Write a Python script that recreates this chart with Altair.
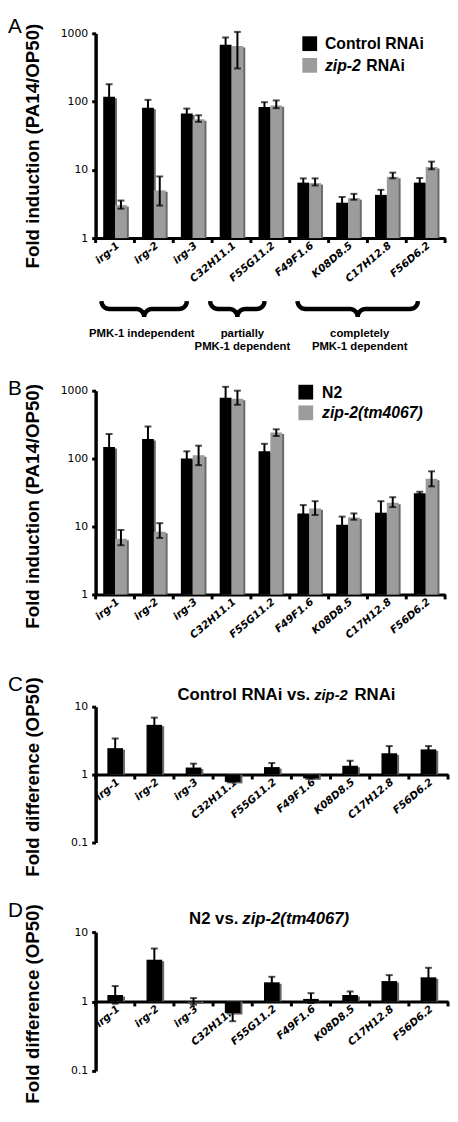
import math
import altair as alt
import pandas as pd

genes = ["irg-1", "irg-2", "irg-3", "C32H11.1", "F55G11.2",
         "F49F1.6", "K08D8.5", "C17H12.8", "F56D6.2"]

# ---- Panel A: Control RNAi vs zip-2 RNAi (fold induction PA14/OP50)
a_conds = ["Control RNAi", "zip-2 RNAi"]
a_ctrl = [118, 81, 67, 680, 83, 6.5, 3.3, 4.3, 6.5]
a_ctrl_lo = [75, 60, 56, 520, 70, 5.6, 2.7, 3.6, 5.5]
a_ctrl_hi = [180, 106, 79, 870, 98, 7.5, 4.0, 5.1, 7.6]
a_zip = [3.05, 5.0, 55, 650, 88, 6.4, 3.85, 7.9, 11.0]
a_zip_lo = [2.7, 3.0, 50.5, 306, 80, 5.9, 3.65, 7.5, 10.2]
a_zip_hi = [3.55, 8.0, 63, 1050, 104, 7.5, 4.45, 9.1, 13.2]

# ---- Panel B: N2 vs zip-2(tm4067)
b_conds = ["N2", "zip-2(tm4067)"]
b_n2 = [148, 195, 100, 790, 128, 15.5, 10.6, 16.0, 31]
b_n2_lo = [95, 130, 78, 550, 100, 11.6, 8.0, 10.8, 29.5]
b_n2_hi = [230, 297, 128, 1140, 165, 20.7, 14.0, 23.6, 32.5]
b_zip = [6.6, 8.4, 112, 760, 243, 18.5, 13.6, 22.4, 50.4]
b_zip_lo = [5.3, 6.8, 80, 620, 215, 14.8, 12.6, 19.3, 39]
b_zip_hi = [8.9, 11.2, 155, 1000, 270, 23.6, 15.6, 27.0, 65]

# ---- Panel C: Control RNAi vs zip-2 RNAi (fold difference OP50)
c_val = [2.45, 5.4, 1.27, 0.78, 1.29, 0.88, 1.35, 2.06, 2.35]
c_lo = [1.7, 4.2, 1.1, 0.78, 1.12, 0.875, 1.15, 1.6, 2.1]
c_hi = [3.4, 6.9, 1.45, 0.9, 1.48, 0.95, 1.6, 2.63, 2.63]

# ---- Panel D: N2 vs zip-2(tm4067) (fold difference OP50)
d_val = [1.24, 4.0, 0.97, 0.68, 1.89, 1.09, 1.24, 1.97, 2.23]
d_lo = [0.93, 2.7, 0.9, 0.52, 1.55, 0.95, 1.1, 1.6, 1.6]
d_hi = [1.67, 5.8, 1.12, 0.84, 2.27, 1.32, 1.39, 2.4, 3.06]

# ---- Braces annotation under panel A (band units along the gene axis)
brace_start = [0.15, 2.95, 5.2]
brace_end = [2.35, 4.35, 8.3]
label_x = [1.19, 3.78, 6.8]
label_line1 = ["PMK-1 independent", "partially", "completely"]
label_line2 = ["", "PMK-1 dependent", "PMK-1 dependent"]

BLACK = "#000000"
GRAY = "#9c9c9c"
SHADOW = "#6a6a6a"
FONT = "Liberation Sans"
TFONT = "DejaVu Sans"

W_AB, H_A, H_B = 355, 208, 207
W_CD, H_C, H_D = 358, 138, 141
BAR_W = 12


def cond_df(v, lo, hi):
    return pd.DataFrame(dict(gene=genes, value=v, lo=lo, hi=hi))


def x_axis(offset=0):
    return alt.Axis(title=None, labelAngle=-40, labelFont=TFONT, labelFontSize=10.5,
                    labelFontWeight="bold", labelFontStyle="italic", labelColor="black",
                    ticks=False, domainColor="black", domainWidth=3, labelPadding=2,
                    offset=offset, labelOverlap=False)


def y_axis(title, values, title_y):
    return alt.Axis(title=title, values=values, format="~g", labelFont=TFONT,
                    labelFontSize=11, labelColor="black", labelPadding=4, tickSize=4,
                    tickWidth=3, tickColor="black", domainColor="black", domainWidth=3.5,
                    titleFont=FONT, titleFontSize=19, titleFontWeight="bold",
                    titleColor="black", titleX=-64, titleY=title_y, titleAngle=270,
                    titleAlign="center", titleBaseline="middle", grid=False)


def text_chart(txt, x, y, size, align="left", baseline="middle", weight="normal",
               style="normal"):
    return alt.Chart(pd.DataFrame({"t": [txt]})).mark_text(
        align=align, baseline=baseline, fontSize=size, font=FONT, fontWeight=weight,
        fontStyle=style, color="black").encode(x=alt.value(x), y=alt.value(y), text="t:N")


def swatch(color, x, y, size=15, opacity=1):
    return alt.Chart(pd.DataFrame({"t": [0]})).mark_rect(color=color, opacity=opacity).encode(
        x=alt.value(x), x2=alt.value(x + size), y=alt.value(y), y2=alt.value(y + size))


def boundary_ticks(xscale, xax, y0):
    first = alt.Chart(pd.DataFrame({"gene": genes})).mark_rule(
        color="black", strokeWidth=3).encode(
        x=alt.X("gene:N", sort=genes, scale=xscale, bandPosition=0, axis=xax),
        y=alt.value(y0), y2=alt.value(y0 + 5))
    last = alt.Chart(pd.DataFrame({"gene": genes[-1:]})).mark_rule(
        color="black", strokeWidth=3).encode(
        x=alt.X("gene:N", sort=genes, scale=xscale, bandPosition=1, axis=xax),
        y=alt.value(y0), y2=alt.value(y0 + 5))
    return [first, last]


def bar_layers(df, xs, ysc, yax, color, dx, width, base_value, rel=False):
    c = alt.Chart(df)
    wkw = dict(width=alt.RelativeBandSize(width)) if rel else dict(width=width)
    shadow = c.mark_bar(color=SHADOW, xOffset=dx + 2, yOffset=1.5, **wkw).encode(
        x=xs, y=alt.Y("value:Q", scale=ysc, axis=yax), y2=alt.datum(base_value))
    bars = c.mark_bar(color=color, xOffset=dx, **wkw).encode(
        x=xs, y=alt.Y("value:Q", scale=ysc, axis=yax), y2=alt.datum(base_value))
    return [shadow, bars]


def err_layers(df, xs, ysc, yax, dx):
    c = alt.Chart(df)
    rule = c.mark_rule(color="black", strokeWidth=2, xOffset=dx).encode(
        x=xs, y=alt.Y("lo:Q", scale=ysc, axis=yax), y2="hi:Q")
    cap_hi = c.mark_tick(color="black", thickness=2, size=7, xOffset=dx).encode(
        x=xs, y=alt.Y("hi:Q", scale=ysc, axis=yax))
    cap_lo = c.mark_tick(color="black", thickness=2, size=7, xOffset=dx).encode(
        x=xs, y=alt.Y("lo:Q", scale=ysc, axis=yax))
    return [rule, cap_hi, cap_lo]


def grouped_panel(df1, df2, height, title, title_y, extra):
    xscale = alt.Scale(paddingInner=0, paddingOuter=0)
    xax = x_axis()
    xs = alt.X("gene:N", sort=genes, scale=xscale, axis=xax)
    ysc = alt.Scale(type="log", domain=[1, 1000])
    yax = y_axis(title, [1, 10, 100, 1000], title_y)
    layers = (bar_layers(df1, xs, ysc, yax, BLACK, -BAR_W / 2, BAR_W, 1)
              + bar_layers(df2, xs, ysc, yax, GRAY, BAR_W / 2, BAR_W, 1)
              + err_layers(df1, xs, ysc, yax, -BAR_W / 2)
              + err_layers(df2, xs, ysc, yax, BAR_W / 2)
              + boundary_ticks(xscale, xax, height) + extra)
    return alt.layer(*layers).properties(width=W_AB, height=height)


def single_panel(df, height, extra):
    xscale = alt.Scale(paddingInner=0, paddingOuter=0)
    xax = x_axis(offset=-height / 2)
    xs = alt.X("gene:N", sort=genes, scale=xscale, axis=xax)
    ysc = alt.Scale(type="log", domain=[0.1, 10])
    yax = y_axis("Fold difference (OP50)", [0.1, 1, 10], height / 2 + 2)
    layers = (bar_layers(df, xs, ysc, yax, BLACK, 0, 0.4, 1, rel=True)
              + err_layers(df, xs, ysc, yax, 0)
              + boundary_ticks(xscale, xax, height / 2) + extra)
    return alt.layer(*layers).properties(width=W_CD, height=height)


# ---------- Panel A
panel_a = grouped_panel(
    cond_df(a_ctrl, a_ctrl_lo, a_ctrl_hi), cond_df(a_zip, a_zip_lo, a_zip_hi),
    H_A, "Fold induction (PA14/OP50)", 114,
    [
        swatch("white", -60, -17, size=1, opacity=0),
        text_chart("A", -89, 0, 21, baseline="alphabetic"),
        swatch(BLACK, 210, 3), swatch(GRAY, 210, 25),
        text_chart("Control RNAi", 233, 11, 16, weight="bold"),
        text_chart("zip-2", 233, 33, 16, weight="bold", style="italic"),
        text_chart("RNAi", 275, 33, 16, weight="bold"),
    ])

# ---------- Braces
PX_PER_UNIT = W_AB / 9.0
B_TOP, B_R = 64, 8


def brace_points(k, x0, x1):
    rx = B_R / PX_PER_UNIT
    m = (x0 + x1) / 2
    n = 8
    left = []
    for j in range(n + 1):
        t = math.pi / 2 * j / n
        left.append((x0 + rx - rx * math.cos(t), B_TOP + B_R * math.sin(t)))
    for j in range(n + 1):
        t = math.pi / 2 * j / n
        left.append((m - rx + rx * math.sin(t), B_TOP + 2 * B_R - B_R * math.cos(t)))
    right = [(2 * m - px, py) for (px, py) in reversed(left)]
    full = left + right
    return [dict(brace=k, i=i, bx=px, by=py) for i, (px, py) in enumerate(full)]


brace_rows = []
for k in range(len(brace_start)):
    brace_rows += brace_points(k, brace_start[k], brace_end[k])
brace_df = pd.DataFrame(brace_rows)
bx_scale = alt.Scale(domain=[0, 9], nice=False, zero=False)
by_scale = alt.Scale(domain=[0, 155], reverse=True, nice=False, zero=False)
braces = alt.Chart(brace_df).mark_line(color="black", strokeWidth=4.5).encode(
    x=alt.X("bx:Q", scale=bx_scale, axis=None),
    y=alt.Y("by:Q", scale=by_scale, axis=None),
    detail="brace:N", order="i:Q")
lab_df = pd.DataFrame(dict(x=label_x, l1=label_line1, l2=label_line2))
lab1 = alt.Chart(lab_df).mark_text(font=FONT, fontSize=11.5, fontWeight="bold",
                                   color="black", baseline="middle").encode(
    x=alt.X("x:Q", scale=bx_scale, axis=None), y=alt.value(97), text="l1:N")
lab2 = alt.Chart(lab_df).mark_text(font=FONT, fontSize=11.5, fontWeight="bold",
                                   color="black", baseline="middle").encode(
    x=alt.X("x:Q", scale=bx_scale, axis=None), y=alt.value(111), text="l2:N")
brace_view = alt.layer(braces, lab1, lab2).properties(width=W_AB, height=155)

# ---------- Panel B
panel_b = grouped_panel(
    cond_df(b_n2, b_n2_lo, b_n2_hi), cond_df(b_zip, b_zip_lo, b_zip_hi),
    H_B, "Fold induction (PA14/OP50)", 117,
    [
        text_chart("B", -89, 4, 21, baseline="alphabetic"),
        swatch(BLACK, 206, -6), swatch(GRAY, 206, 15),
        text_chart("N2", 230, 2, 16, weight="bold"),
        text_chart("zip-2(tm4067)", 230, 23, 16, weight="bold", style="italic"),
    ])


def spacer(h, w):
    return alt.Chart(pd.DataFrame({"t": [""]})).mark_text().encode(
        text="t:N").properties(width=w, height=h)


# ---------- Panel C
panel_c = single_panel(
    cond_df(c_val, c_lo, c_hi), H_C,
    [
        text_chart("C", -89, -16, 21, baseline="alphabetic"),
        text_chart("Control RNAi vs.", 218, -12, 17, align="right", weight="bold"),
        text_chart("zip-2", 222, -12, 15, weight="bold", style="italic"),
        text_chart("RNAi", 263, -12, 17, weight="bold"),
    ])

# ---------- Panel D
panel_d = single_panel(
    cond_df(d_val, d_lo, d_hi), H_D,
    [
        text_chart("D", -89, -15, 21, baseline="alphabetic"),
        text_chart("N2 vs.", 145, -13, 17, align="right", weight="bold"),
        text_chart("zip-2(tm4067)", 149, -13, 17, weight="bold", style="italic"),
    ])

chart = alt.vconcat(
    panel_a, brace_view, panel_b, spacer(114, W_AB), panel_c, spacer(91, W_CD), panel_d,
    spacing=0, bounds="flush", padding=0,
).configure_view(strokeWidth=0).properties(background="white")

chart.save("out.html", embed_options={"renderer": "svg", "actions": False})
